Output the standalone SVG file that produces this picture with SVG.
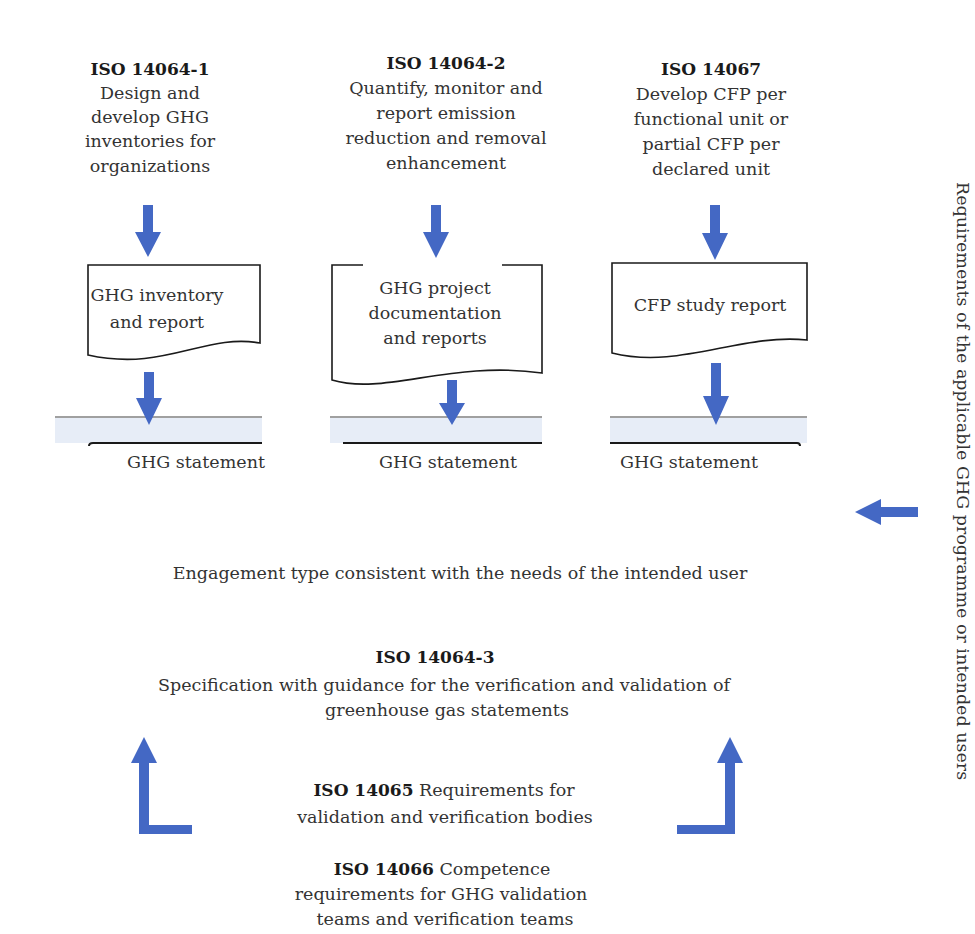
<svg xmlns="http://www.w3.org/2000/svg" width="975" height="934" viewBox="0 0 975 934">
  <style>
    text { font-family: "DejaVu Serif", "Liberation Serif", serif; font-size: 17.5px; fill: #333333; }
    .c { text-anchor: middle; }
    .b { font-weight: bold; fill: #1a1a1a; font-size: 17px; }
    .arrow { fill: #4468c4; }
    .doc { fill: #ffffff; stroke: #1a1a1a; stroke-width: 1.6; stroke-linejoin: miter; }
    .band { fill: #e7edf7; }
    .bandTop { stroke: #808080; stroke-width: 1.6; fill: none; }
    .bandBase { stroke: #1a1a1a; stroke-width: 2; fill: none; }
  </style>
  <rect width="975" height="934" fill="#ffffff"/>

  <!-- Column 1: ISO 14064-1 -->
  <g id="iso14064-1">
    <text class="c b" x="150" y="75">ISO 14064-1</text>
    <text class="c" x="150" y="99">Design and</text>
    <text class="c" x="150" y="123">develop GHG</text>
    <text class="c" x="150" y="147">inventories for</text>
    <text class="c" x="150" y="172">organizations</text>
  </g>
  <g id="ghg-inventory-report">
    <path class="doc" d="M88,265 H260 V343 C205,333 165,372 88,355 Z"/>
    <text class="c" x="157" y="301">GHG inventory</text>
    <text class="c" x="157" y="328">and report</text>
  </g>
  <g id="ghg-statement-1">
    <rect class="band" x="55" y="418" width="207" height="25"/>
    <line class="bandTop" x1="55" y1="417" x2="262" y2="417"/>
    <path class="bandBase" d="M89,446 Q89,443 93,443 H262"/>
    <text class="c" x="196" y="468">GHG statement</text>
  </g>

  <!-- Column 2: ISO 14064-2 -->
  <g id="iso14064-2">
    <text class="c b" x="446" y="69">ISO 14064-2</text>
    <text class="c" x="446" y="94">Quantify, monitor and</text>
    <text class="c" x="446" y="119">report  emission</text>
    <text class="c" x="446" y="144">reduction and removal</text>
    <text class="c" x="446" y="169">enhancement</text>
  </g>
  <g id="ghg-project-docs">
    <path class="doc" fill="none" d="M363,265 H332 V380 C385,396 450,360 542,373 V265 H502"/>
    <text class="c" x="435" y="294">GHG project</text>
    <text class="c" x="435" y="319">documentation</text>
    <text class="c" x="435" y="344">and reports</text>
  </g>
  <g id="ghg-statement-2">
    <rect class="band" x="330" y="418" width="212" height="25"/>
    <line class="bandTop" x1="330" y1="417" x2="542" y2="417"/>
    <line class="bandBase" x1="343" y1="443" x2="542" y2="443"/>
    <text class="c" x="448" y="468">GHG statement</text>
  </g>

  <!-- Column 3: ISO 14067 -->
  <g id="iso14067">
    <text class="c b" x="711" y="75">ISO 14067</text>
    <text class="c" x="711" y="100">Develop CFP per</text>
    <text class="c" x="711" y="125">functional unit or</text>
    <text class="c" x="711" y="150">partial CFP per</text>
    <text class="c" x="711" y="175">declared unit</text>
  </g>
  <g id="cfp-study-report">
    <path class="doc" d="M612,263 H807 V340 C740,333 680,370 612,353 Z"/>
    <text class="c" x="710" y="311">CFP study report</text>
  </g>
  <g id="ghg-statement-3">
    <rect class="band" x="610" y="418" width="197" height="25"/>
    <line class="bandTop" x1="610" y1="417" x2="807" y2="417"/>
    <path class="bandBase" d="M610,443 H797 Q800,443 800,446"/>
    <text class="c" x="689" y="468">GHG statement</text>
  </g>

  <!-- Requirements coming in from the side -->
  <g id="requirements">
    <text transform="translate(957,182) rotate(90)">Requirements of the applicable GHG programme or intended users</text>
  </g>

  <g id="engagement">
    <text class="c" x="460" y="579">Engagement type consistent with the needs of the intended user</text>
  </g>

  <!-- Verification and validation standards -->
  <g id="iso14064-3">
    <text class="c b" x="435" y="663">ISO 14064-3</text>
    <text class="c" x="444" y="691">Specification with guidance for the verification and validation of</text>
    <text class="c" x="447" y="716">greenhouse gas statements</text>
  </g>
  <g id="iso14065">
    <text class="c" x="444" y="796"><tspan class="b">ISO 14065</tspan> Requirements for</text>
    <text class="c" x="445" y="823">validation and verification bodies</text>
  </g>
  <g id="iso14066">
    <text class="c" x="442" y="875"><tspan class="b">ISO 14066</tspan> Competence</text>
    <text class="c" x="441" y="900">requirements for GHG validation</text>
    <text class="c" x="445" y="925">teams and verification teams</text>
  </g>

  <!-- Connectors -->
  <g id="connectors">
    <polygon class="arrow" points="143,205 153,205 153,232 161,232 148,257 135,232 143,232"/>
    <polygon class="arrow" points="144,372 154,372 154,398 162,398 149,425 136,398 144,398"/>
    <polygon class="arrow" points="431,205 441,205 441,232 449,232 436,258 423,232 431,232"/>
    <polygon class="arrow" points="447,380 457,380 457,403 465,403 452,425 439,403 447,403"/>
    <polygon class="arrow" points="710,205 720,205 720,233 728,233 715,260 702,233 710,233"/>
    <polygon class="arrow" points="711,363 721,363 721,396 729,396 716,425 703,396 711,396"/>
    <polygon class="arrow" points="855,512 881,499 881,507 918,507 918,517 881,517 881,525"/>
    <polygon class="arrow" points="144,737 157,763 149,763 149,825 192,825 192,834 139,834 139,763 131,763"/>
    <polygon class="arrow" points="730,737 743,763 735,763 735,834 677,834 677,825 725,825 725,763 717,763"/>
  </g>
</svg>
